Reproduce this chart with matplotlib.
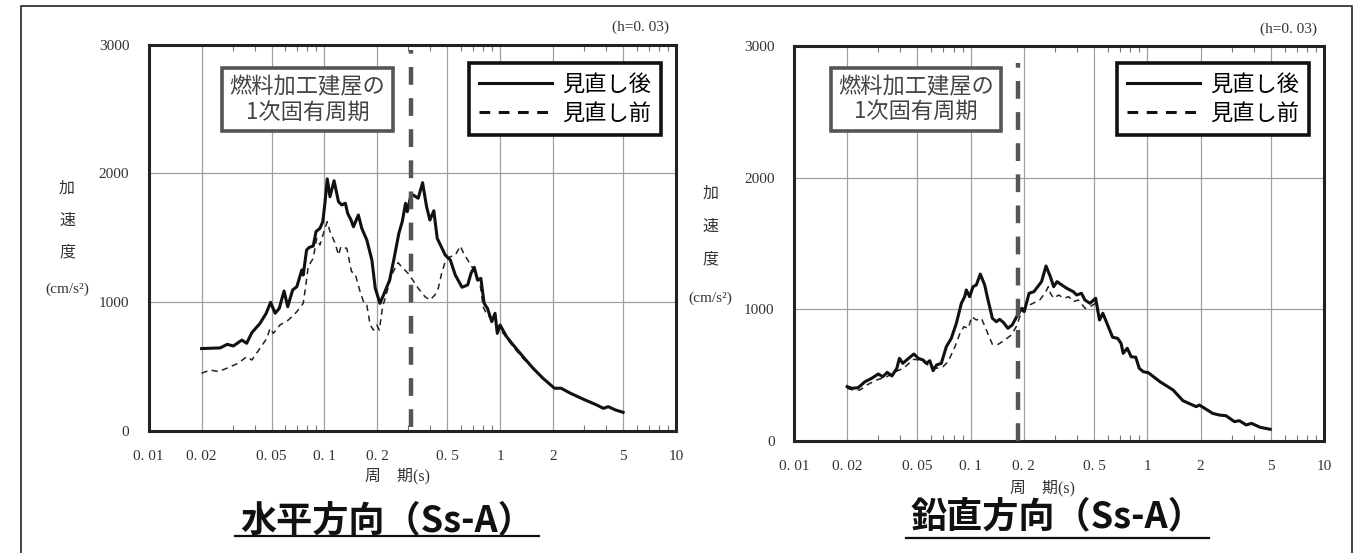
import numpy as np
import matplotlib
matplotlib.use('Agg')
import matplotlib.pyplot as plt
from matplotlib.lines import Line2D

plt.rcParams['font.family'] = ['Noto Sans CJK JP', 'DejaVu Sans']

############################ data ############################
# horizontal, Ss-A (after / before revision)
h_period_after = [0.02, 0.0255, 0.028, 0.0303, 0.0339, 0.0361, 0.0386, 0.043, 0.0466, 0.0494,
                  0.0524, 0.0553, 0.0589, 0.0618, 0.0659, 0.0696, 0.0743, 0.0757, 0.0791, 0.082,
                  0.0863, 0.0895, 0.0943, 0.0978, 0.1006, 0.1037, 0.1075, 0.1134, 0.1202, 0.1255,
                  0.1315, 0.1355, 0.1416, 0.1462, 0.1559, 0.163, 0.1741, 0.1861, 0.1945, 0.2069,
                  0.2188, 0.2348, 0.2479, 0.265, 0.277, 0.2893, 0.296, 0.3089, 0.32, 0.3415,
                  0.3616, 0.381, 0.3979, 0.419, 0.438, 0.4867, 0.52, 0.555, 0.606, 0.6527,
                  0.6818, 0.7117, 0.743, 0.776, 0.81, 0.846, 0.895, 0.934, 0.962, 0.998,
                  1.087, 1.185, 1.348, 1.538, 1.752, 2.035, 2.22, 2.51, 2.98, 3.54,
                  3.86, 4.12, 4.53, 5.0]
h_acc_after = [640, 645, 673, 660, 706, 681, 763, 836, 914, 999,
               914, 952, 1087, 965, 1095, 1120, 1250, 1211, 1405, 1426,
               1436, 1548, 1574, 1625, 1768, 1957, 1819, 1943, 1780, 1755,
               1768, 1690, 1638, 1586, 1677, 1574, 1483, 1328, 1108, 991,
               1069, 1172, 1328, 1535, 1625, 1768, 1703, 1819, 1832, 1807,
               1928, 1742, 1638, 1710, 1496, 1366, 1328, 1211, 1116, 1134,
               1224, 1271, 1172, 1185, 991, 952, 849, 914, 758, 823,
               732, 668, 577, 487, 409, 332, 332, 293, 246, 202,
               176, 189, 163, 145]
h_period_before = [0.02, 0.0223, 0.0249, 0.0278, 0.0323, 0.0361, 0.0386, 0.043, 0.047, 0.049,
                   0.0512, 0.0558, 0.0624, 0.0696, 0.0757, 0.0781, 0.0808, 0.0863, 0.0903, 0.0943,
                   0.0993, 0.1037, 0.1075, 0.115, 0.1202, 0.124, 0.134, 0.1425, 0.1492, 0.1595,
                   0.168, 0.1741, 0.182, 0.19, 0.1985, 0.2051, 0.2143, 0.2256, 0.2407, 0.262,
                   0.28, 0.299, 0.309, 0.3415, 0.373, 0.398, 0.425, 0.444, 0.464, 0.49,
                   0.52, 0.555, 0.593, 0.619, 0.6527, 0.699, 0.737, 0.7665, 0.8, 0.84,
                   0.895, 0.934, 1.04, 1.185, 1.348, 1.538, 1.752, 2.035, 2.22, 2.51,
                   2.98, 3.54, 3.86, 4.12, 4.53, 5.0]
h_acc_before = [448, 474, 461, 487, 526, 577, 551, 642, 720, 797,
                758, 823, 862, 926, 991, 1120, 1276, 1341, 1496, 1444,
                1548, 1625, 1548, 1457, 1366, 1431, 1418, 1237, 1224, 1082,
                991, 978, 823, 784, 823, 784, 965, 1069, 1211, 1307,
                1263, 1224, 1198, 1108, 1043, 1017, 1056, 1108, 1224, 1328,
                1353, 1366, 1436, 1380, 1328, 1263, 1185, 1147, 965, 901,
                875, 836, 758, 654, 564, 487, 409, 332, 332, 293,
                246, 202, 176, 189, 163, 145]

# vertical, Ss-A
v_period_after = [0.02, 0.0212, 0.0231, 0.0252, 0.0275, 0.03, 0.0318, 0.0337, 0.0358, 0.0382,
                  0.0395, 0.0413, 0.0434, 0.0477, 0.0505, 0.0538, 0.0562, 0.0587, 0.0613, 0.064,
                  0.0682, 0.0728, 0.0777, 0.083, 0.0886, 0.0925, 0.0945, 0.0987, 0.1031, 0.1077,
                  0.1134, 0.12, 0.1254, 0.1327, 0.1397, 0.1459, 0.1536, 0.1624, 0.1717, 0.1844,
                  0.195, 0.2009, 0.2141, 0.228, 0.238, 0.2518, 0.267, 0.2826, 0.295, 0.308,
                  0.328, 0.3495, 0.381, 0.398, 0.424, 0.443, 0.4735, 0.51, 0.536, 0.56,
                  0.596, 0.636, 0.679, 0.71, 0.73, 0.77, 0.81, 0.86, 0.9, 0.949,
                  1.012, 1.18, 1.4, 1.59, 1.89, 1.97, 2.19, 2.34, 2.56, 2.79,
                  3.11, 3.32, 3.63, 3.89, 4.35, 4.96]
v_acc_after = [413, 400, 405, 450, 476, 509, 488, 521, 494, 552,
               628, 590, 615, 661, 628, 615, 590, 610, 534, 577,
               590, 716, 780, 894, 1046, 1096, 1147, 1096, 1172, 1185,
               1268, 1185, 1071, 932, 906, 924, 899, 856, 881, 957,
               1008, 982, 1122, 1134, 1167, 1210, 1329, 1248, 1172, 1210,
               1185, 1160, 1134, 1109, 1122, 1071, 1046, 1084, 919, 970,
               881, 788, 780, 742, 666, 704, 640, 636, 552, 526,
               519, 450, 387, 306, 261, 273, 235, 210, 197, 192,
               147, 154, 122, 134, 104, 89]
v_period_before = [0.02, 0.0217, 0.0236, 0.0258, 0.0293, 0.0335, 0.0374, 0.0416, 0.0475, 0.052,
                   0.0574, 0.064, 0.0697, 0.0745, 0.0815, 0.087, 0.0915, 0.097, 0.1013, 0.1077,
                   0.115, 0.1227, 0.1327, 0.143, 0.156, 0.17, 0.181, 0.193, 0.206, 0.2255,
                   0.246, 0.2635, 0.275, 0.2826, 0.295, 0.315, 0.336, 0.359, 0.381, 0.407,
                   0.444, 0.473, 0.51, 0.536, 0.56, 0.596, 0.636, 0.679, 0.71, 0.73,
                   0.77, 0.81, 0.86, 0.9, 0.949, 1.012, 1.18, 1.4, 1.59, 1.89,
                   1.97, 2.19, 2.34, 2.56, 2.79, 3.11, 3.32, 3.63, 3.89, 4.35, 4.96]
v_acc_before = [400, 387, 387, 425, 463, 488, 526, 552, 620, 615,
                577, 552, 564, 602, 716, 818, 868, 856, 944, 919,
                932, 843, 734, 734, 767, 805, 868, 970, 1020, 1046,
                1071, 1122, 1172, 1122, 1084, 1109, 1084, 1096, 1058, 1071,
                1008, 1020, 1046, 919, 970, 881, 788, 780, 742, 666,
                704, 640, 636, 552, 526, 519, 450, 387, 306, 261,
                273, 235, 210, 197, 192, 147, 154, 122, 134, 104, 89]

# first natural period of the fuel fabrication building
building_period_h = 0.31
building_period_v = 0.185

xticks = [0.01, 0.02, 0.05, 0.1, 0.2, 0.5, 1, 2, 5, 10]
xticklabels = ['0. 01', '0. 02', '0. 05', '0. 1', '0. 2', '0. 5', '1', '2', '5', '10']
yticks = [0, 1000, 2000, 3000]
legend_labels = ['見直し後', '見直し前']
note_text = '燃料加工建屋の\n1次固有周期'
titles = ['水平方向（Ss-A）', '鉛直方向（Ss-A）']
###################################################################################

W, H = 1363, 553
fig = plt.figure(figsize=(W / 100, H / 100), dpi=100)


def fx(px):
    return px / W


def fy(py):
    return 1 - py / H


serif = ['Liberation Serif', 'Noto Sans CJK JP']
txt_col = '#333333'


def draw_panel(rect, pa, aa, pb, ab, period, vline_rng, note_xy, leg_anchor):
    ax = fig.add_axes(rect)
    ax.set_xscale('log')
    ax.set_xlim(0.01, 10)
    ax.set_ylim(0, 3000)
    ax.grid(True, which='major', color='#a0a0a0', lw=0.9)
    ax.set_axisbelow(True)
    ax.set_xticks(xticks, xticklabels)
    ax.set_yticks(yticks, [str(v) for v in yticks])
    ax.tick_params(axis='both', which='major', length=0, labelsize=11, labelcolor=txt_col)
    ax.tick_params(axis='x', pad=14)
    ax.tick_params(axis='y', pad=14)
    ax.tick_params(axis='x', which='minor', direction='in', length=4, width=0.8,
                   color='#777777', top=True, bottom=True)
    ax.xaxis.set_minor_formatter(plt.NullFormatter())
    for lab in ax.get_xticklabels() + ax.get_yticklabels():
        lab.set_family(serif)
    for sp in ax.spines.values():
        sp.set_linewidth(2.2)
        sp.set_color('#222222')

    ax.plot(pb, ab, color='#222222', lw=1.1, ls=(0, (4, 3)))
    ax.plot(pa, aa, color='#111111', lw=2.2)

    ax.axvline(period, ymin=vline_rng[0], ymax=vline_rng[1], color='#555555',
               lw=3.2, ls=(0, (4, 3)), zorder=5)

    ax.text(note_xy[0], note_xy[1], note_text, transform=ax.transAxes, ha='center',
            va='center', fontsize=16, color='#444444', linespacing=1.1, zorder=6,
            bbox=dict(boxstyle='square,pad=0.33', fc='white', ec='#555555', lw=2.6))

    handles = [Line2D([], [], color='#111111', lw=2.2),
               Line2D([], [], color='#111111', lw=2.2, ls=(0, (3.5, 2.8)))]
    leg = ax.legend(handles, legend_labels, loc='upper right', bbox_to_anchor=leg_anchor,
                    fontsize=16, handlelength=3.3, handletextpad=0.45, borderpad=0.45,
                    labelspacing=0.25, fancybox=False, framealpha=1, edgecolor='#111111',
                    borderaxespad=0)
    leg.get_frame().set_linewidth(2.6)
    leg.set_zorder(6)
    return ax


# left panel: horizontal
draw_panel([fx(148.7), fy(431), 527.3 / W, 386.4 / H],
           h_period_after, h_acc_after, h_period_before, h_acc_before,
           building_period_h, (0.01, 0.986), (0.301, 0.858), (0.9716, 0.952))
# right panel: vertical
draw_panel([fx(794), fy(441), 530 / W, 395 / H],
           v_period_after, v_acc_after, v_period_before, v_acc_before,
           building_period_v, (0.0, 0.957), (0.230, 0.865), (0.9717, 0.957))

# y-axis captions, damping notes, x captions
for x0, ys, yu in [(67, (188, 220, 252), 289.5), (710.5, (193, 226, 258.5), 298)]:
    for ch, yy in zip('加速度', ys):
        fig.text(fx(x0), fy(yy), ch, ha='center', va='center', fontsize=11.5, color=txt_col)
    fig.text(fx(x0), fy(yu), '(cm/s²)', ha='center', va='center', fontsize=11,
             color=txt_col, family=serif)

for xc, yc in [(641, 27), (1289, 29)]:
    fig.text(fx(xc), fy(yc), '(h=0. 03)', ha='center', va='center', fontsize=11,
             color=txt_col, family=serif)

for xc, yc in [(397, 476), (1042, 488)]:
    fig.text(fx(xc), fy(yc), '周\u3000期(s)', ha='center', va='center', fontsize=11.5,
             color=txt_col, family=serif)

# titles with underline
for t, xc, yc, ul in zip(titles, [387, 1057], [521, 517], [(235, 539, 536), (906, 1209, 538)]):
    fig.text(fx(xc), fy(yc), t, ha='center', va='center', fontsize=26, fontweight='bold',
             color='#111111')
    fig.add_artist(Line2D([fx(ul[0]), fx(ul[1])], [fy(ul[2]), fy(ul[2])], color='#111111', lw=1.6))

# frame round the whole picture
fig.add_artist(Line2D([fx(21), fx(21), fx(1352), fx(1352)], [0, fy(6), fy(6), 0],
                      color='#444444', lw=1.4))

fig.savefig('out.png', dpi=100)
